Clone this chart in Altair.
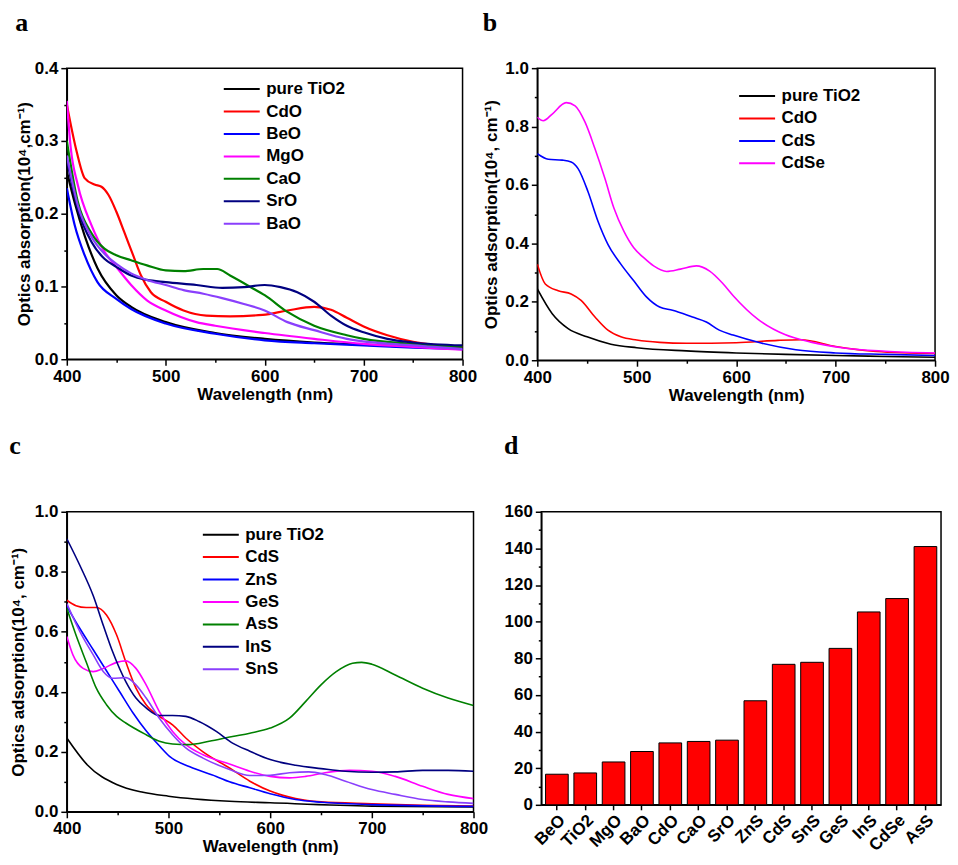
import altair as alt
import pandas as pd

FONT = "Liberation Sans"
SERIF = "Liberation Serif"

# ---------------- Panel a ----------------
a_names = ["pure TiO2", "CdO", "BeO", "MgO", "CaO", "SrO", "BaO"]
a_colors = ["#000000", "#ff0000", "#0000ff", "#ff00ff", "#008000", "#000080", "#8a3ffc"]

a_tio2_wl = [400, 408, 418, 431, 450, 465, 500, 550, 600, 650, 700, 750, 800]
a_tio2 = [0.258, 0.215, 0.17, 0.125, 0.088, 0.072, 0.051, 0.036, 0.028, 0.023, 0.02, 0.017, 0.016]
a_cdo_wl = [400, 410, 418, 428, 435, 442, 450, 458, 467, 475, 485, 500, 518, 541, 565, 598, 623, 650, 667, 683, 700, 724, 750, 800]
a_cdo = [0.35, 0.285, 0.249, 0.24, 0.237, 0.226, 0.203, 0.175, 0.143, 0.115, 0.092, 0.079, 0.067, 0.06, 0.059, 0.061, 0.067, 0.072, 0.068, 0.057, 0.045, 0.033, 0.024, 0.017]
a_beo_wl = [400, 408, 418, 431, 450, 465, 500, 550, 600, 650, 700, 750, 800]
a_beo = [0.235, 0.184, 0.143, 0.106, 0.083, 0.069, 0.049, 0.035, 0.026, 0.022, 0.019, 0.016, 0.014]
a_mgo_wl = [400, 404, 411, 425, 438, 450, 465, 481, 500, 531, 550, 600, 650, 700, 750, 800]
a_mgo = [0.355, 0.29, 0.24, 0.184, 0.148, 0.127, 0.102, 0.081, 0.067, 0.051, 0.046, 0.036, 0.028, 0.021, 0.017, 0.013]
a_cao_wl = [400, 411, 425, 438, 450, 465, 481, 500, 518, 538, 552, 565, 586, 600, 623, 650, 683, 700, 750, 800]
a_cao = [0.3, 0.217, 0.173, 0.152, 0.143, 0.136, 0.129, 0.122, 0.121, 0.124, 0.124, 0.115, 0.099, 0.088, 0.065, 0.046, 0.033, 0.028, 0.021, 0.017]
a_sro_wl = [400, 411, 425, 438, 450, 465, 481, 500, 531, 557, 579, 600, 616, 633, 650, 667, 683, 700, 724, 750, 800]
a_sro = [0.275, 0.207, 0.161, 0.138, 0.127, 0.115, 0.109, 0.106, 0.102, 0.098, 0.099, 0.102, 0.099, 0.092, 0.079, 0.06, 0.046, 0.037, 0.028, 0.023, 0.019]
a_bao_wl = [400, 411, 425, 438, 450, 465, 481, 500, 518, 538, 557, 579, 600, 623, 650, 683, 750, 800]
a_bao = [0.28, 0.212, 0.168, 0.145, 0.131, 0.118, 0.109, 0.102, 0.095, 0.09, 0.084, 0.076, 0.067, 0.051, 0.04, 0.028, 0.019, 0.014]

# ---------------- Panel b ----------------
b_names = ["pure TiO2", "CdO", "CdS", "CdSe"]
b_colors = ["#000000", "#ff0000", "#0000ff", "#ff00ff"]

b_tio2_wl = [400, 415, 431, 450, 474, 500, 550, 600, 650, 700, 750, 800]
b_tio2 = [0.244, 0.159, 0.108, 0.08, 0.055, 0.043, 0.032, 0.025, 0.02, 0.016, 0.013, 0.01]
b_cdo_wl = [400, 408, 421, 434, 444, 458, 471, 484, 500, 523, 550, 600, 642, 665, 700, 741, 800]
b_cdo = [0.329, 0.261, 0.238, 0.227, 0.205, 0.148, 0.103, 0.08, 0.069, 0.061, 0.058, 0.06, 0.068, 0.07, 0.047, 0.03, 0.023]
b_cds_wl = [400, 411, 425, 434, 441, 451, 461, 471, 484, 497, 510, 523, 536, 556, 570, 583, 597, 625, 660, 700, 750, 800]
b_cds = [0.707, 0.688, 0.685, 0.679, 0.656, 0.577, 0.476, 0.397, 0.329, 0.272, 0.216, 0.182, 0.171, 0.148, 0.131, 0.103, 0.086, 0.059, 0.036, 0.025, 0.02, 0.016]
b_cdse_wl = [400, 406, 415, 429, 438, 448, 458, 468, 477, 487, 497, 507, 517, 530, 544, 560, 573, 587, 597, 622, 649, 675, 708, 750, 800]
b_cdse = [0.832, 0.82, 0.843, 0.882, 0.871, 0.815, 0.724, 0.622, 0.521, 0.442, 0.385, 0.351, 0.323, 0.304, 0.312, 0.323, 0.306, 0.261, 0.221, 0.14, 0.088, 0.062, 0.042, 0.031, 0.025]

# ---------------- Panel c ----------------
c_names = ["pure TiO2", "CdS", "ZnS", "GeS", "AsS", "InS", "SnS"]
c_colors = ["#000000", "#ff0000", "#0000ff", "#ff00ff", "#008000", "#000080", "#8a3ffc"]

c_tio2_wl = [400, 420, 449, 475, 500, 560, 600, 700, 800]
c_tio2 = [0.246, 0.157, 0.091, 0.065, 0.052, 0.035, 0.03, 0.019, 0.016]
c_cds_wl = [400, 409, 419, 429, 439, 449, 458, 468, 478, 491, 504, 517, 534, 560, 580, 600, 625, 650, 700, 750, 800]
c_cds = [0.705, 0.687, 0.681, 0.681, 0.656, 0.589, 0.5, 0.412, 0.357, 0.318, 0.29, 0.246, 0.2, 0.146, 0.102, 0.069, 0.044, 0.033, 0.027, 0.022, 0.019]
c_zns_wl = [400, 413, 426, 439, 452, 465, 478, 491, 501, 521, 547, 560, 580, 600, 625, 650, 700, 800]
c_zns = [0.685, 0.61, 0.54, 0.47, 0.40, 0.33, 0.27, 0.22, 0.185, 0.15, 0.118, 0.1, 0.08, 0.06, 0.041, 0.032, 0.024, 0.018]
c_ges_wl = [400, 406, 416, 426, 436, 449, 458, 468, 478, 491, 504, 517, 534, 560, 580, 600, 619, 635, 654, 678, 700, 723, 750, 775, 800]
c_ges = [0.584, 0.523, 0.478, 0.467, 0.478, 0.498, 0.503, 0.478, 0.423, 0.334, 0.268, 0.224, 0.19, 0.159, 0.135, 0.118, 0.113, 0.118, 0.13, 0.138, 0.135, 0.118, 0.085, 0.058, 0.044]
c_ass_wl = [400, 409, 419, 429, 439, 449, 458, 478, 491, 504, 520, 540, 563, 580, 600, 619, 635, 650, 665, 681, 690, 700, 723, 750, 775, 800]
c_ass = [0.678, 0.589, 0.5, 0.412, 0.357, 0.318, 0.296, 0.257, 0.235, 0.226, 0.224, 0.235, 0.251, 0.262, 0.279, 0.312, 0.368, 0.423, 0.467, 0.495, 0.498, 0.492, 0.456, 0.412, 0.379, 0.354]
c_ins_wl = [400, 413, 426, 436, 445, 458, 468, 478, 491, 504, 517, 530, 547, 563, 580, 600, 625, 650, 674, 700, 723, 750, 775, 800]
c_ins = [0.91, 0.82, 0.72, 0.62, 0.534, 0.434, 0.379, 0.346, 0.321, 0.321, 0.318, 0.301, 0.268, 0.229, 0.202, 0.174, 0.155, 0.144, 0.135, 0.132, 0.133, 0.138, 0.138, 0.135]
c_sns_wl = [400, 413, 426, 436, 445, 458, 468, 478, 491, 504, 517, 534, 560, 580, 600, 619, 638, 654, 674, 700, 723, 750, 775, 800]
c_sns = [0.694, 0.6, 0.523, 0.467, 0.445, 0.447, 0.423, 0.379, 0.312, 0.257, 0.213, 0.179, 0.141, 0.121, 0.122, 0.13, 0.133, 0.124, 0.102, 0.074, 0.058, 0.041, 0.033, 0.028]

# ---------------- Panel d ----------------
d_materials = ["BeO", "TiO2", "MgO", "BaO", "CdO", "CaO", "SrO", "ZnS", "CdS", "SnS", "GeS", "InS", "CdSe", "AsS"]
d_values = [16.7, 17.4, 23.4, 29.1, 33.8, 34.6, 35.3, 56.8, 76.7, 77.8, 85.4, 105.3, 112.6, 141.0]

# tick values (major + minor)
x_ticks = [400, 450, 500, 550, 600, 650, 700, 750, 800]
ya_ticks = [0, 0.05, 0.1, 0.15, 0.2, 0.25, 0.3, 0.35, 0.4]
ybc_ticks = [0, 0.1, 0.2, 0.3, 0.4, 0.5, 0.6, 0.7, 0.8, 0.9, 1.0]
yd_ticks = list(range(0, 161, 10))


def make_df(names, series):
    rows = []
    for name, (wl, val) in zip(names, series):
        for w, v in zip(wl, val):
            rows.append({"wl": w, "v": v, "s": name})
    return pd.DataFrame(rows)


df_a = make_df(a_names, [(a_tio2_wl, a_tio2), (a_cdo_wl, a_cdo), (a_beo_wl, a_beo), (a_mgo_wl, a_mgo),
                         (a_cao_wl, a_cao), (a_sro_wl, a_sro), (a_bao_wl, a_bao)])
df_b = make_df(b_names, [(b_tio2_wl, b_tio2), (b_cdo_wl, b_cdo), (b_cds_wl, b_cds), (b_cdse_wl, b_cdse)])
df_c = make_df(c_names, [(c_tio2_wl, c_tio2), (c_cds_wl, c_cds), (c_zns_wl, c_zns), (c_ges_wl, c_ges),
                         (c_ass_wl, c_ass), (c_ins_wl, c_ins), (c_sns_wl, c_sns)])
df_d = pd.DataFrame({"m": d_materials, "v": d_values})


def letter_title(letter, offset, dy):
    return alt.TitleParams(letter, anchor="start", frame="bounds", font=SERIF, fontSize=26,
                           fontWeight="bold", color="black", offset=offset, dy=dy)


def minor_size(test):
    return {"condition": {"test": test, "value": 3}, "value": 6}


def line_panel(df, names, colors, ydom, yticks, ystep, ytitle, w, h, lx, ly,
               letter, toff, tdy, sw, ytitle_pad):
    xs = alt.Scale(domain=[400, 800], nice=False, zero=False)
    ys = alt.Scale(domain=ydom, nice=False)
    ymin_test = f"abs(datum.value/{ystep} - round(datum.value/{ystep})) > 0.01"
    lines = alt.Chart(df).mark_line(interpolate="monotone", strokeWidth=sw, clip=True).encode(
        x=alt.X("wl:Q", scale=xs,
                axis=alt.Axis(values=x_ticks, title="Wavelength (nm)", orient="bottom",
                              labelExpr="datum.value % 100 == 0 ? format(datum.value, 'd') : ''",
                              tickSize=minor_size("datum.value % 100 != 0"),
                              titlePadding=2, labelFlush=False, labelOverlap=False)),
        y=alt.Y("v:Q", scale=ys,
                axis=alt.Axis(values=yticks, title=ytitle, orient="left",
                              labelExpr=f"{ymin_test} ? '' : format(datum.value, '.1f')",
                              tickSize=minor_size(ymin_test),
                              titlePadding=ytitle_pad, labelOverlap=False)),
        color=alt.Color("s:N", scale=alt.Scale(domain=names, range=colors),
                        legend=alt.Legend(orient="none", legendX=lx, legendY=ly, title=None,
                                          symbolType="stroke", symbolSize=1300, symbolStrokeWidth=2,
                                          clipHeight=16, rowPadding=5.5, labelOffset=5,
                                          labelFont=FONT, labelFontSize=17, labelFontWeight="bold",
                                          labelColor="black")),
        detail="s:N",
    )
    return lines.properties(width=w, height=h, title=letter_title(letter, toff, tdy))


panel_a = line_panel(df_a, a_names, a_colors, [0, 0.4], ya_ticks, 0.1,
                     "Optics absorption(10⁴,cm⁻¹)",
                     397, 292, 156, 13, "a", 5, -18, 2.2, 1)
panel_b = line_panel(df_b, b_names, b_colors, [0, 1.0], ybc_ticks, 0.2,
                     "Optics adsorption(10⁴, cm⁻¹)",
                     399, 293, 201, 20, "b", 5, -18, 1.6, 4)
panel_c = line_panel(df_c, c_names, c_colors, [0, 1.0], ybc_ticks, 0.2,
                     "Optics adsorption(10⁴, cm⁻¹)",
                     408, 301, 135, 15, "c", 34, -10, 1.6, 7)

ys_d = alt.Scale(domain=[0, 160], nice=False)
panel_d = alt.Chart(df_d).mark_bar(color="#ff0000", stroke="black", strokeWidth=1).encode(
    x=alt.X("m:N", sort=d_materials, scale=alt.Scale(paddingInner=0.2, paddingOuter=0.15),
            axis=alt.Axis(title=None, labelAngle=315, labelAlign="right", labelBaseline="top",
                          orient="bottom", labelOverlap=False, labelPadding=2)),
    y=alt.Y("v:Q", scale=ys_d,
            axis=alt.Axis(values=yd_ticks, title=None, orient="left",
                          labelExpr="datum.value % 20 == 0 ? format(datum.value, 'd') : ''",
                          tickSize=minor_size("datum.value % 20 != 0"),
                          labelOverlap=False)),
).properties(width=401, height=294, title=letter_title("d", 34, -10))

row1 = alt.hconcat(panel_a, panel_b, spacing=4).resolve_scale(color="independent")
row2 = alt.hconcat(panel_c, panel_d, spacing=14).resolve_scale(color="independent")

chart = alt.vconcat(row1, row2, spacing=28).resolve_scale(color="independent").properties(
    padding={"left": 0, "top": 0, "right": 0, "bottom": 0}
).configure_view(
    stroke="black", strokeWidth=1.5
).configure_axis(
    labelFont=FONT, labelFontSize=17, labelFontWeight="bold", labelColor="black",
    titleFont=FONT, titleFontSize=17, titleFontWeight="bold", titleColor="black",
    domainColor="black", domainWidth=1.5, tickColor="black", tickWidth=1.5,
    grid=False, labelPadding=3,
)

chart.save("out.html", embed_options={"renderer": "svg", "actions": False})
